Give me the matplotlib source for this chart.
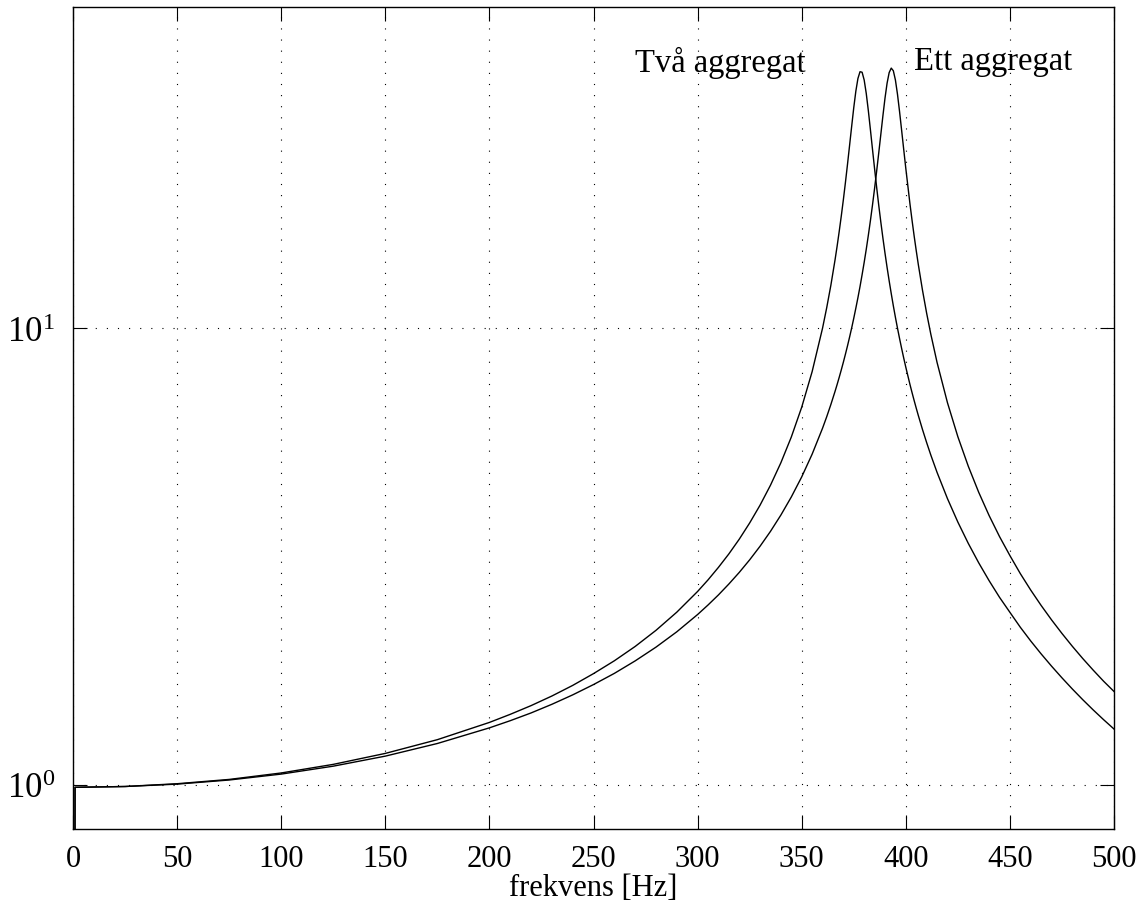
import matplotlib
matplotlib.use("Agg")
import matplotlib.pyplot as plt

plt.rcParams["font.family"] = ["Liberation Serif", "DejaVu Serif"]
plt.rcParams["mathtext.fontset"] = "stix"

# frekvens [Hz]
freq = [0, 1, 25, 50, 75, 100, 125, 150, 175, 200,
        210, 220, 230, 240, 250, 260, 270, 280, 290, 300,
        305, 310, 315, 320, 325, 330, 335, 340, 345, 350,
        355, 360, 362, 364, 366, 367, 368, 369, 370, 371,
        372, 373, 374, 375, 376, 377, 378, 379, 380, 381,
        382, 383, 384, 385, 386, 387, 388, 389, 390, 391,
        392, 393, 394, 395, 396, 397, 398, 399, 400,
        402, 403, 404, 405, 406, 408, 410, 412, 415, 420,
        425, 430, 435, 440, 445, 450, 455, 460, 465, 470,
        475, 480, 485, 490, 495, 500]

# Två aggregat (resonans ca 378 Hz)
tva = [1e-3, 0.987, 0.991, 1.005, 1.027, 1.061, 1.108, 1.171, 1.255, 1.369,
       1.426, 1.490, 1.564, 1.650, 1.751, 1.868, 2.008, 2.178, 2.387, 2.650,
       2.809, 2.992, 3.202, 3.449, 3.743, 4.095, 4.528, 5.072, 5.773, 6.711,
       8.027, 9.994, 11.08, 12.41, 14.10, 15.11, 16.27, 17.59, 19.10, 20.85,
       22.86, 25.15, 27.68, 30.40, 33.03, 35.21, 36.43, 36.34, 34.94, 32.64,
       29.93, 27.18, 24.62, 22.33, 20.32, 18.57, 17.06, 15.74, 14.59, 13.58,
       12.69, 11.90, 11.19, 10.56, 9.995, 9.484, 9.019, 8.594, 8.207,
       7.522, 7.220, 6.940, 6.679, 6.436, 5.998, 5.614, 5.273, 4.831, 4.232,
       3.759, 3.377, 3.062, 2.798, 2.573, 2.385, 2.212, 2.064, 1.934, 1.818,
       1.714, 1.620, 1.535, 1.458, 1.388, 1.324]

# Ett aggregat (resonans ca 393 Hz)
ett = [1e-3, 0.987, 0.991, 1.003, 1.024, 1.055, 1.098, 1.155, 1.231, 1.332,
       1.381, 1.436, 1.500, 1.573, 1.657, 1.753, 1.867, 2.001, 2.162, 2.359,
       2.475, 2.604, 2.751, 2.917, 3.108, 3.329, 3.588, 3.896, 4.267, 4.722,
       5.295, 6.035, 6.394, 6.802, 7.266, 7.523, 7.800, 8.098, 8.419, 8.769,
       9.147, 9.560, 10.01, 10.51, 11.06, 11.66, 12.33, 13.09, 13.93, 14.88,
       15.97, 17.20, 18.61, 20.23, 22.08, 24.20, 26.57, 29.18, 31.88, 34.38,
       36.27, 37.10, 36.61, 34.94, 32.51, 29.78, 27.08, 24.59, 22.36,
       18.69, 17.21, 15.91, 14.78, 13.78, 12.11, 10.78, 9.700, 8.411, 6.864,
       5.781, 4.983, 4.370, 3.886, 3.495, 3.175, 2.899, 2.668, 2.469, 2.296,
       2.144, 2.009, 1.889, 1.782, 1.685, 1.600]

xticks = [0, 50, 100, 150, 200, 250, 300, 350, 400, 450, 500]

fig = plt.figure(figsize=(11.44, 9.04), dpi=100)
ax = fig.add_axes([0.0638, 0.0819, 0.9100, 0.9093])

ax.plot(freq, tva, color="black", linewidth=1.0)
ax.plot(freq, ett, color="black", linewidth=1.0)

ax.set_yscale("log")
ax.set_xlim(0, 500)
ax.set_ylim(0.8, 50.5)
ax.set_xticks(xticks)
ax.set_yticks([1, 10])
ax.minorticks_off()
ax.tick_params(axis="both", which="both", direction="in", length=10, width=0.8,
               top=True, right=True, labelsize=22)
ax.tick_params(axis="x", pad=11)
ax.tick_params(axis="y", pad=13, labelsize=25)
ax.grid(True, which="major", color="black", linestyle=(0, (1, 9)), linewidth=0.8)
for s in ax.spines.values():
    s.set_linewidth(1.0)

ax.set_xlabel("frekvens [Hz]", fontsize=22, labelpad=0)

ax.text(270, 36.6, "Två aggregat", fontsize=23.5, va="baseline", ha="left")
ax.text(404, 37.0, "Ett aggregat", fontsize=23.5, va="baseline", ha="left")

fig.savefig("out.png", dpi=100)
